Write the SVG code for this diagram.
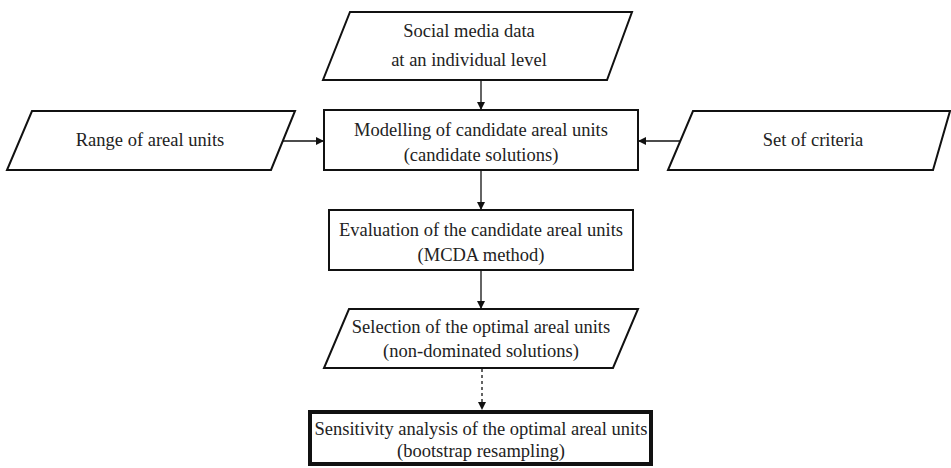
<svg xmlns="http://www.w3.org/2000/svg" width="951" height="468" viewBox="0 0 951 468">
<style>
.shape{fill:#fff;stroke:#111;stroke-width:2}
.thick{fill:#fff;stroke:#111;stroke-width:4}
.t{font-family:"Liberation Serif","Times New Roman",serif;font-size:18.5px;fill:#222;text-anchor:middle}
.c{stroke:#111;stroke-width:1.3;fill:none;marker-end:url(#ah)}
.d{stroke-dasharray:3,3}
</style>
<defs>
<marker id="ah" viewBox="0 0 10 10" refX="10" refY="5" markerWidth="8" markerHeight="8" markerUnits="userSpaceOnUse" orient="auto">
<path d="M0,0 L10,5 L0,10 z" fill="#111"/>
</marker>
</defs>
<rect width="951" height="468" fill="#fff"/>
<g id="connectors">
<line class="c" x1="481" y1="80" x2="481" y2="110"/>
<line class="c" x1="283" y1="141" x2="324" y2="141"/>
<line class="c" x1="680" y1="141" x2="638" y2="141"/>
<line class="c" x1="481" y1="170" x2="481" y2="210"/>
<line class="c" x1="481" y1="270" x2="481" y2="309"/>
<line class="c d" x1="482" y1="369" x2="482" y2="410"/>
</g>
<g id="social">
<polygon class="shape" points="350,12 632,12 607,80 323,80"/>
<text class="t" x="469" y="37">Social media data</text>
<text class="t" x="469" y="66">at an individual level</text>
</g>
<g id="range">
<polygon class="shape" points="32,111 295,111 271,170 7,170"/>
<text class="t" x="150" y="146">Range of areal units</text>
</g>
<g id="criteria">
<polygon class="shape" points="693,111 950,111 933,170 668,170"/>
<text class="t" x="813" y="146">Set of criteria</text>
</g>
<g id="modelling">
<rect class="shape" x="324" y="110" width="314" height="60"/>
<text class="t" x="481" y="136">Modelling of candidate areal units</text>
<text class="t" x="481" y="161">(candidate solutions)</text>
</g>
<g id="evaluation">
<rect class="shape" x="329" y="210" width="304" height="60"/>
<text class="t" x="481" y="236">Evaluation of the candidate areal units</text>
<text class="t" x="481" y="261">(MCDA method)</text>
</g>
<g id="selection">
<polygon class="shape" points="349,309 638,309 613,368 324,368"/>
<text class="t" x="481" y="333">Selection of the optimal areal units</text>
<text class="t" x="481" y="357">(non-dominated solutions)</text>
</g>
<g id="sensitivity">
<rect class="thick" x="310" y="412" width="341" height="52"/>
<text class="t" x="481" y="435">Sensitivity analysis of the optimal areal units</text>
<text class="t" x="481" y="457">(bootstrap resampling)</text>
</g>
</svg>
